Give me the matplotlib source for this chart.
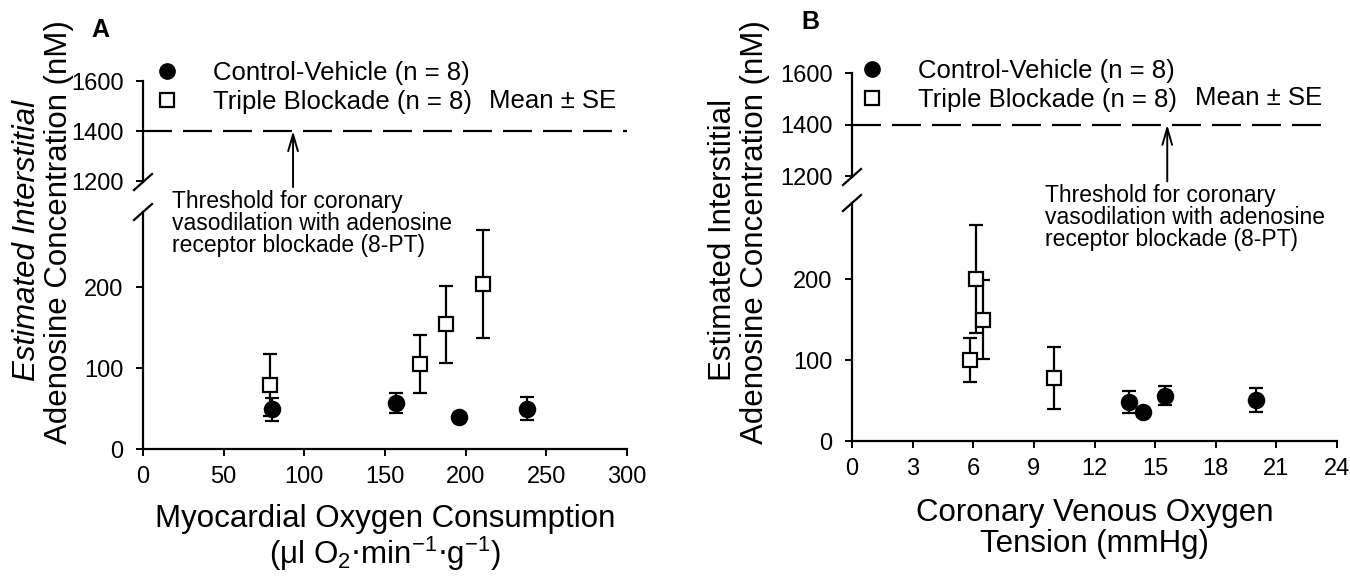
import matplotlib
matplotlib.use("Agg")
import matplotlib.pyplot as plt
from matplotlib.lines import Line2D

plt.rcParams['font.family'] = ['Liberation Sans', 'DejaVu Sans']

# ---------------- data ----------------
# Panel A: x = myocardial O2 consumption
a_ctrl_x = [80, 157, 196, 238]
a_ctrl_y = [49, 57, 39, 50]
a_ctrl_se = [14, 12, 3, 14]
a_tb_x = [79, 172, 188, 211]
a_tb_y = [79, 105, 154, 204]
a_tb_se = [38, 36, 48, 67]

# Panel B: x = coronary venous O2 tension
b_ctrl_x = [13.7, 14.4, 15.5, 20.0]
b_ctrl_y = [48, 36, 56, 51]
b_ctrl_se = [14, 4, 12, 15]
b_tb_x = [5.85, 6.15, 6.5, 10.0]
b_tb_y = [100, 200, 150, 78]
b_tb_se = [27, 67, 49, 38]

threshold = 1400
a_xticks = [0, 50, 100, 150, 200, 250, 300]
b_xticks = [0, 3, 6, 9, 12, 15, 18, 21, 24]
low_yticks = [0, 100, 200]
up_yticks = [1200, 1400, 1600]

legend_labels = ['Control-Vehicle (n = 8)', 'Triple Blockade (n = 8)']
thresh_text = 'Threshold for coronary\nvasodilation with adenosine\nreceptor blockade (8-PT)'

W, H = 1350, 576
fig = plt.figure(figsize=(W / 100, H / 100), dpi=100)


def rect(left, right, top, bottom):
    return [left / W, 1 - bottom / H, (right - left) / W, (bottom - top) / H]


TICK_FS = 17
LAB_FS = 22.5
LEG_FS = 18.5
TXT_FS = 16.5


def style(ax, xaxis=True):
    for s in ['top', 'right']:
        ax.spines[s].set_visible(False)
    ax.spines['left'].set_linewidth(1.6)
    ax.spines['bottom'].set_linewidth(1.6)
    ax.tick_params(direction='out', length=5, width=1.4, labelsize=TICK_FS)
    ax.tick_params(axis='x', pad=7)
    ax.tick_params(axis='y', pad=9)
    if not xaxis:
        ax.spines['bottom'].set_visible(False)
        ax.tick_params(axis='x', bottom=False, labelbottom=False)
    ax.patch.set_alpha(0)


def draw_errs(ax, x, y, se, marker, ms, face):
    ax.errorbar(x, y, yerr=se, fmt='none', ecolor='black', elinewidth=1.6,
                capsize=5, capthick=1.6, zorder=2, clip_on=False)
    ax.plot(x, y, linestyle='none', marker=marker, markersize=ms,
            markerfacecolor=face, markeredgecolor='black', markeredgewidth=1.6,
            zorder=3, clip_on=False)


def break_marks(ax_low, ax_up, lowpx, uppx):
    dx, dy = 9, 8
    ax_low.plot([-dx / lowpx[0], dx / lowpx[0]], [1 - dy / lowpx[1], 1 + dy / lowpx[1]],
                transform=ax_low.transAxes, color='black', lw=1.6, clip_on=False)
    ax_up.plot([-dx / uppx[0], dx / uppx[0]], [-dy / uppx[1], dy / uppx[1]],
               transform=ax_up.transAxes, color='black', lw=1.6, clip_on=False)


def panel(geom, xlim, xticks, ctrl, tb, legend_anchor, mean_pos, arrow_x, tail_y,
          text_xy, ylabel_x, italic, xlabel, xlabel_y, letter, letter_xy, dash_end):
    L, R, lowT, lowB, upT, upB, lowtop, upbot = geom
    ax_low = fig.add_axes(rect(L, R, lowT, lowB))
    ax_up = fig.add_axes(rect(L, R, upT, upB))
    style(ax_low)
    style(ax_up, xaxis=False)
    ax_low.set_xlim(*xlim)
    ax_up.set_xlim(*xlim)
    ax_low.set_ylim(0, lowtop)
    ax_up.set_ylim(upbot, 1600)
    ax_low.set_xticks(xticks)
    ax_low.set_yticks(low_yticks)
    ax_up.set_yticks(up_yticks)

    draw_errs(ax_low, tb[0], tb[1], tb[2], 's', 10, 'white')
    draw_errs(ax_low, ctrl[0], ctrl[1], ctrl[2], 'o', 11, 'black')

    break_marks(ax_low, ax_up, (R - L, lowB - lowT), (R - L, upB - upT))

    # threshold line
    ax_up.plot([xlim[0], dash_end], [threshold, threshold], color='black', lw=1.6,
               dashes=(13, 5), clip_on=False)
    ax_up.annotate('', xy=(arrow_x, threshold), xytext=(arrow_x, tail_y),
                   arrowprops=dict(arrowstyle='->,head_length=1.2,head_width=0.35',
                                   color='black', lw=1.4, shrinkA=0, shrinkB=0),
                   annotation_clip=False)
    fig.text(text_xy[0] / W, 1 - text_xy[1] / H, thresh_text, fontsize=TXT_FS,
             ha='left', va='top', linespacing=0.95)

    handles = [Line2D([], [], ls='none', marker='o', ms=11, mfc='black', mec='black'),
               Line2D([], [], ls='none', marker='s', ms=10, mfc='white', mec='black', mew=1.6)]
    ax_up.legend(handles, legend_labels, loc='upper left',
                 bbox_to_anchor=(legend_anchor[0] / W, 1 - legend_anchor[1] / H),
                 bbox_transform=fig.transFigure, frameon=False, fontsize=LEG_FS,
                 borderpad=0, borderaxespad=0, handlelength=1.6, handletextpad=1.0,
                 labelspacing=0.2)
    fig.text(mean_pos[0] / W, 1 - mean_pos[1] / H, 'Mean ± SE', fontsize=LEG_FS,
             ha='left', va='center')

    # y labels
    fig.text(ylabel_x[0] / W, 1 - 240 / H, 'Estimated Interstitial', rotation=90,
             fontsize=LAB_FS, ha='center', va='center',
             style='italic' if italic else 'normal')
    fig.text(ylabel_x[1] / W, 1 - 232 / H, 'Adenosine Concentration (nM)', rotation=90,
             fontsize=LAB_FS, ha='center', va='center')
    # x label
    xc = (L + R) / 2 / W
    fig.text(xc, 1 - xlabel_y[0] / H, xlabel[0], fontsize=LAB_FS, ha='center', va='center')
    fig.text(xc, 1 - xlabel_y[1] / H, xlabel[1], fontsize=LAB_FS, ha='center', va='center')
    fig.text(letter_xy[0] / W, 1 - letter_xy[1] / H, letter, fontsize=18,
             fontweight='bold', ha='center', va='center')
    return ax_low, ax_up


panel((143, 627, 212, 449, 81, 182, 293, 1196), (0, 300), a_xticks,
      (a_ctrl_x, a_ctrl_y, a_ctrl_se), (a_tb_x, a_tb_y, a_tb_se),
      legend_anchor=(146, 61), mean_pos=(489, 101), arrow_x=93, tail_y=1176,
      text_xy=(172, 190), ylabel_x=(27, 59), italic=True,
      xlabel=('Myocardial Oxygen Consumption',
              r'($\mathregular{\mu}$l O$_\mathregular{2}$$\cdot$min$^\mathregular{-1}$$\cdot$g$^\mathregular{-1}$)'),
      xlabel_y=(519, 554), letter='A', letter_xy=(100, 30), dash_end=300)

panel((852, 1337, 203, 441, 73, 177, 294, 1198), (0, 24), b_xticks,
      (b_ctrl_x, b_ctrl_y, b_ctrl_se), (b_tb_x, b_tb_y, b_tb_se),
      legend_anchor=(851, 59), mean_pos=(1195, 98), arrow_x=15.6, tail_y=1181,
      text_xy=(1045, 184), ylabel_x=(723, 755), italic=False,
      xlabel=('Coronary Venous Oxygen', 'Tension (mmHg)'),
      xlabel_y=(513, 544), letter='B', letter_xy=(810, 22), dash_end=23.7)

fig.savefig('out.png', dpi=100)
